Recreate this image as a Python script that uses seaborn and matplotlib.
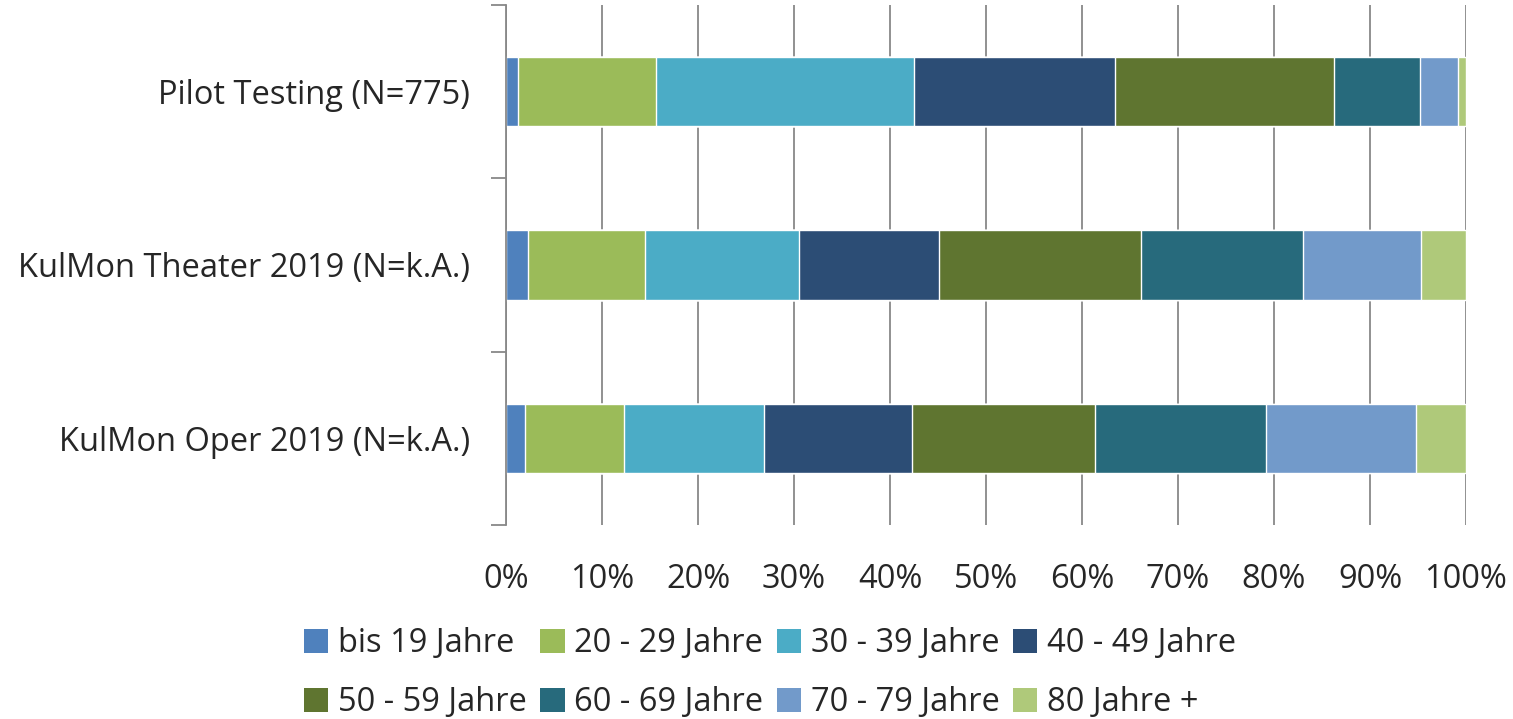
"""
Altersverteilung: gestapeltes 100%-Balkendiagramm
"""
import numpy as np
import pandas as pd
import seaborn as sns
import matplotlib

matplotlib.use('Agg')
import matplotlib.pyplot as plt
from matplotlib.patches import Patch

# ==================== Daten ====================
studien = ['Pilot Testing (N=775)', 'KulMon Theater 2019 (N=k.A.)', 'KulMon Oper 2019 (N=k.A.)']
altersgruppen = ['bis 19 Jahre', '20 - 29 Jahre', '30 - 39 Jahre', '40 - 49 Jahre',
                 '50 - 59 Jahre', '60 - 69 Jahre', '70 - 79 Jahre', '80 Jahre +']
pilot = [1.2, 14.4, 26.9, 20.9, 22.9, 8.9, 4.0, 0.8]
theater = [2.3, 12.2, 16.0, 14.6, 21.0, 16.9, 12.3, 4.7]
oper = [2.0, 10.3, 14.6, 15.4, 19.1, 17.8, 15.6, 5.2]
farben = ['#4F81BD', '#9BBB59', '#4BACC6', '#2C4D75',
          '#5F7530', '#276A7C', '#729ACA', '#AFC97A']
x_ticks = [0, 10, 20, 30, 40, 50, 60, 70, 80, 90, 100]

# ==================== Stil ====================
sns.set_style('white')
plt.rcParams['font.family'] = ['Open Sans', 'DejaVu Sans']
FS = 23.5

werte = np.array([pilot, theater, oper])
werte = werte / werte.sum(axis=1, keepdims=True) * 100
kumuliert = np.cumsum(werte, axis=1)

fig = plt.figure(figsize=(15.13, 7.19), dpi=100)
ax = fig.add_axes([506 / 1513, 1 - 525 / 719, 960 / 1513, 520 / 719])

# vom größten kumulierten Wert rückwärts zeichnen -> gestapelt
for i in range(len(altersgruppen) - 1, -1, -1):
    df = pd.DataFrame({'studie': studien, 'wert': kumuliert[:, i]})
    sns.barplot(data=df, x='wert', y='studie', orient='h', color=farben[i],
                saturation=1, width=0.4, ax=ax, order=studien)

ax.set_xlim(0, 100)
ax.set_ylim(2.5, -0.5)
ax.set_xticks(x_ticks)
ax.set_xticklabels([f'{t}%' for t in x_ticks], fontsize=FS)
ax.tick_params(axis='x', length=0, pad=27)
ax.tick_params(axis='y', which='major', length=0, pad=26, labelsize=FS)
ax.set_yticks([-0.5, 0.5, 1.5, 2.5], minor=True)
ax.tick_params(axis='y', which='minor', left=True, length=11, color='#888888',
               direction='out', width=1.3)
ax.set_xlabel('')
ax.set_ylabel('')

ax.grid(True, axis='x', color='#888888', linewidth=1.3)
ax.set_axisbelow(True)
for s in ['top', 'right', 'bottom']:
    ax.spines[s].set_visible(False)
ax.spines['left'].set_color('#888888')
ax.spines['left'].set_linewidth(1.3)

# Legende zeilenweise befüllen (matplotlib füllt spaltenweise)
ncol = 4
reihenfolge = [r * ncol + c for c in range(ncol) for r in range(2)]
handles = [Patch(facecolor=farben[k], edgecolor='none') for k in reihenfolge]
labels = [altersgruppen[k] for k in reihenfolge]
fig.legend(handles, labels, loc='center', ncol=ncol,
           bbox_to_anchor=(770 / 1513, 1 - 673 / 719), frameon=False, fontsize=FS,
           handlelength=0.75, handleheight=0.75, handletextpad=0.3,
           columnspacing=0.4, labelspacing=0.8)

plt.savefig('out.png', dpi=100)
plt.close('all')
